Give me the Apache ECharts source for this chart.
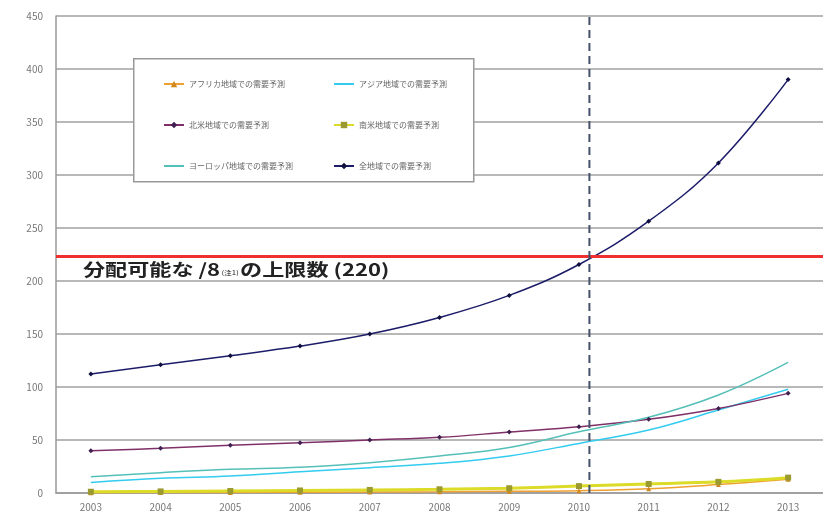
<!DOCTYPE html>
<html>
<head>
<meta charset="utf-8">
<script src="https://cdn.jsdelivr.net/npm/echarts@6/dist/echarts.min.js"></script>
<style>
html,body{margin:0;padding:0;background:#fff;}
#chart{width:823px;height:518px;}
</style>
</head>
<body>
<div id="chart"></div>
<script>
// ---- data ----
var years = ['2003','2004','2005','2006','2007','2008','2009','2010','2011','2012','2013'];
var africa = [0.3,0.4,0.5,0.7,0.9,1.2,1.6,2.2,4,8,13];
var asia = [10,13.8,16,20,23.9,28,35,46.8,59.4,78.3,97.8];
var northAmerica = [39.9,42.1,45,47.4,50,52.5,57.5,62.5,69.5,79.8,94];
var southAmerica = [1.2,1.5,1.9,2.4,2.9,3.5,4.5,6.5,8.5,10.5,14.5];
var europe = [15.4,19.2,22.3,24.2,28.6,34.9,43,57.8,71.4,92.4,123.2];
var allRegions = [112.2,121,129.5,138.6,150,165.6,186.4,215.6,256.4,311.4,390];
var names = ['アフリカ地域での需要予測','アジア地域での需要予測','北米地域での需要予測','南米地域での需要予測','ヨーロッパ地域での需要予測','全地域での需要予測'];
var limitValue = 223;          // red line (labelled 220)
var exhaustionPoint = 7.15;    // dashed vertical line, in category-index units (just after 2010)

var font = '"Noto Sans CJK JP", "Noto Sans", sans-serif';
var chart = echarts.init(document.getElementById('chart'));

function ln(name, data, color, width, symbol, symColor, symSize, z) {
  return {
    name: name, type: 'line', data: data, smooth: 0.4,
    xAxisIndex: 0, yAxisIndex: 0,
    symbol: symbol, symbolSize: symSize, showSymbol: symbol !== 'none',
    lineStyle: {color: color, width: width},
    itemStyle: {color: symColor, borderWidth: 0},
    z: z || 2, animation: false
  };
}

var legendText = {fontSize: 8, color: '#666', fontFamily: font};
var plain = {opacity: 0};

chart.setOption({
  animation: false,
  backgroundColor: '#fff',
  grid: {left: 56, right: -10, top: 16, bottom: 25, containLabel: false},
  legend: [
    {orient: 'vertical', left: 158, top: 75, itemWidth: 20, itemHeight: 8, itemGap: 33, z: 10,
     data: [names[0], names[2], {name: names[4], itemStyle: plain}], textStyle: legendText},
    {orient: 'vertical', left: 328, top: 75, itemWidth: 20, itemHeight: 8, itemGap: 33, z: 10,
     data: [{name: names[1], itemStyle: plain}, names[3], names[5]], textStyle: legendText}
  ],
  graphic: [{
    type: 'rect', left: 133, top: 58, z: 3,
    shape: {width: 340, height: 123},
    style: {fill: '#fff', stroke: '#999', lineWidth: 1.5}
  }, {
    type: 'text', x: 83, y: 261, scaleX: 1.3, z: 8,
    style: {
      text: '{a|分配可能な /8}{s|(注1)}{a|の上限数 (220)}',
      rich: {
        a: {fontSize: 17, fontWeight: 'bold', fill: '#222', fontFamily: font},
        s: {fontSize: 6, fill: '#222', fontFamily: font, padding: [6, 1, 0, 1]}
      }
    }
  }],
  xAxis: [{
    type: 'category', data: years, boundaryGap: true,
    axisLine: {lineStyle: {color: '#999', width: 1.5}},
    axisTick: {inside: true, length: 4, lineStyle: {color: '#999'}},
    axisLabel: {color: '#777', fontSize: 10, fontFamily: font, margin: 9},
    splitLine: {show: false}
  }, {
    type: 'value', min: -0.5, max: 10.5, show: false
  }],
  yAxis: {
    type: 'value', min: 0, max: 450, interval: 50,
    axisLine: {show: true, onZero: false, lineStyle: {color: '#999', width: 1.5}},
    axisTick: {show: false},
    axisLabel: {color: '#777', fontSize: 10, fontFamily: font, margin: 13},
    splitLine: {lineStyle: {color: '#a0a0a0', width: 1.5}}
  },
  series: [
    ln(names[0], africa, '#f0a030', 1.5, 'triangle', '#d08820', 5, 3),
    ln(names[1], asia, '#33ccf0', 1.5, 'none', '#33ccf0', 4, 3),
    ln(names[2], northAmerica, '#803068', 1.5, 'diamond', '#402050', 5, 3),
    ln(names[3], southAmerica, '#dcdc28', 3, 'rect', '#9a9a30', 6, 4),
    ln(names[4], europe, '#55c0b8', 1.5, 'none', '#55c0b8', 4, 3),
    ln(names[5], allRegions, '#1c1c6a', 1.5, 'diamond', '#101040', 5, 4),
    {
      type: 'line', xAxisIndex: 1, yAxisIndex: 0, silent: true, z: 6,
      data: [[exhaustionPoint, 0], [exhaustionPoint, 455]],
      symbol: 'none', lineStyle: {color: '#45506a', width: 2, type: [8, 5]},
      markLine: {
        silent: true, symbol: 'none', animation: false,
        lineStyle: {color: '#ee3030', width: 3, type: 'solid'},
        label: {show: false},
        data: [{yAxis: limitValue}]
      }
    }
  ]
});
</script>
</body>
</html>
